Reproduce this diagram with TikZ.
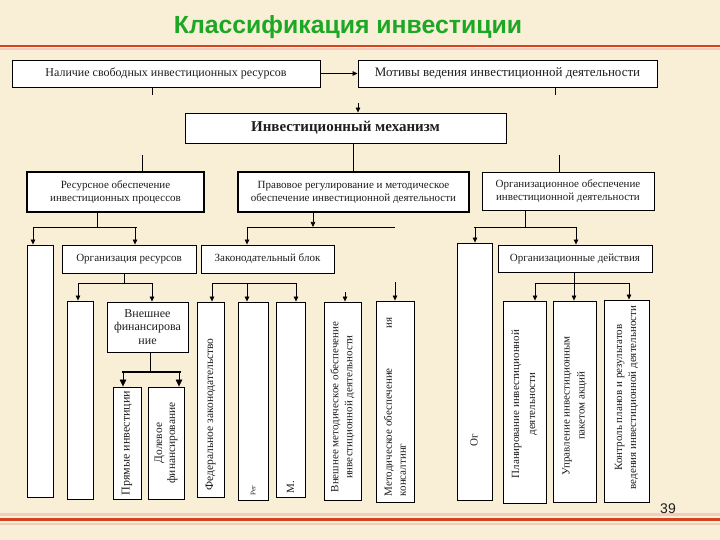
\documentclass[tikz,border=0pt]{standalone}
\usepackage{fontspec}
\setmainfont{Liberation Serif}
\newfontfamily\slidesans{Liberation Sans}
\usetikzlibrary{arrows.meta, positioning}
\definecolor{slidebg}{RGB}{249,239,214}
\definecolor{slidered}{RGB}{210,68,32}
\definecolor{slidepink}{RGB}{242,205,190}
\definecolor{titlegreen}{RGB}{28,168,36}
\definecolor{ink}{RGB}{30,30,30}

\begin{document}
\begin{tikzpicture}[x=1pt, y=-1pt,
    box/.style={draw=black, fill=white, line width=0.9pt, inner sep=1pt, align=center,
                font=\fontsize{11}{13}\selectfont, text=ink},
    vtxt/.style={rotate=90, anchor=west, align=center, inner sep=0pt,
                 font=\fontsize{11}{14}\selectfont, text=ink},
    arr/.style={-{Triangle[length=5pt, width=4.5pt]}, line width=0.7pt},
    bigarr/.style={-{Triangle[length=7pt, width=6.5pt]}, line width=0.7pt},
    link/.style={line width=0.7pt}
  ]
  % slide background
  \fill[slidebg] (0,0) rectangle (720,540);
  \useasboundingbox (0,0) rectangle (720,540);
  \draw[slidepink, line width=2pt] (0,49.5) -- (720,49.5);
  \draw[slidered, line width=2pt] (0,46.5) -- (720,46.5);
  \draw[slidepink, line width=3pt] (0,514) -- (720,514);
  \draw[slidepink, line width=2pt] (0,524) -- (720,524);
  \draw[slidered, line width=3pt] (0,519) -- (720,519);
  \node[font=\slidesans\bfseries\fontsize{24.8}{28}\selectfont, text=titlegreen] (title) at (348,27) {Классификация инвестиции};
  \node[font=\slidesans\fontsize{14}{16}\selectfont, text=ink] (pnum) at (668,509) {39};

  % top rows
  \node[box, minimum width=308, minimum height=27, font=\fontsize{12}{14}\selectfont] (nal) at (166,73.5) {Наличие свободных инвестиционных ресурсов};
  \node[box, minimum width=299, minimum height=27, font=\fontsize{13}{15}\selectfont] (mot) at (507.5,73.5) {Мотивы ведения инвестиционной деятельности};
  \node[box, minimum width=321, minimum height=30, font=\bfseries\fontsize{15}{17}\selectfont] (mech) at (345.5,128) {Инвестиционный механизм};
  \node[box, minimum width=177, minimum height=40, line width=1.3pt] (res) at (115.5,192) {Ресурсное обеспечение\\инвестиционных процессов};
  \node[box, minimum width=231, minimum height=40, line width=1.3pt] (pravo) at (353.5,192) {Правовое регулирование и методическое\\обеспечение инвестиционной деятельности};
  \node[box, minimum width=172, minimum height=38] (org) at (568,191) {Организационное обеспечение\\инвестиционной деятельности};

  % third row
  \node[box, minimum width=26, minimum height=252] (g1) at (40,371) {};
  \node[box, minimum width=134, minimum height=28] (orgres) at (129,259) {Организация ресурсов};
  \node[box, minimum width=133, minimum height=28] (zak) at (267.5,259) {Законодательный блок};
  \node[box, minimum width=35, minimum height=257] (oblank) at (474.5,371.5) {};
  \node[box, minimum width=154, minimum height=27] (orgdej) at (575,258.5) {Организационные действия};

  % lower boxes
  \node[box, minimum width=26, minimum height=198] (h1) at (80,400) {};
  \node[box, minimum width=81, minimum height=50, font=\fontsize{12}{13.5}\selectfont] (vnesh) at (147.5,327) {Внешнее\\финансирова\\ние};
  \node[box, minimum width=28, minimum height=112] (pryam) at (127,443) {};
  \node[box, minimum width=36, minimum height=112] (dolev) at (166,443) {};
  \node[box, minimum width=27, minimum height=195] (fed) at (210.5,399.5) {};
  \node[box, minimum width=30, minimum height=198] (reg) at (253,401) {};
  \node[box, minimum width=29, minimum height=195] (mest) at (290.5,399.5) {};
  \node[box, minimum width=37, minimum height=198] (vnmet) at (342.5,401) {};
  \node[box, minimum width=38, minimum height=201] (met) at (395,401.5) {};
  \node[box, minimum width=43, minimum height=202] (plan) at (524.5,402) {};
  \node[box, minimum width=43, minimum height=201] (upr) at (574.5,401.5) {};
  \node[box, minimum width=45, minimum height=202] (kontr) at (626.5,401) {};

  % vertical labels
  \node[vtxt, anchor=center, font=\fontsize{12}{13}\selectfont] (tpryam) at (pryam.center) {Прямые инвестиции};
  \node[vtxt, anchor=center, font=\fontsize{11.4}{13}\selectfont] (tdolev) at (dolev.center) {Долевое\\финансирование};
  \node[vtxt, font=\fontsize{11.5}{13}\selectfont] (tfed) at ([yshift=7pt]fed.south) {Федеральное законодательство};
  \node[vtxt, font=\fontsize{7}{8}\selectfont] (treg) at ([yshift=5pt]reg.south) {Рег};
  \node[vtxt] (tmest) at ([yshift=4pt]mest.south) {М.};
  \node[vtxt] (tvnmet) at ([yshift=8pt]vnmet.south) {Внешнее методическое обеспечение\\инвестиционной деятельности};
  \node[vtxt, align=left] (tmet) at ([yshift=6pt]met.south) {Методическое обеспечение\hspace{3.6em}ия\\консалтинг};
  \node[vtxt, anchor=center] (tob) at (474,440) {Ог};
  \node[vtxt, font=\fontsize{11}{16}\selectfont] (tplan) at ([yshift=25pt]plan.south) {Планирование инвестиционной\\деятельности};
  \node[vtxt, font=\fontsize{11}{15}\selectfont] (tupr) at ([yshift=27pt]upr.south) {Управление инвестиционным\\пакетом акций};
  \node[vtxt] (tkontr) at ([yshift=13pt]kontr.south) {Контроль планов и результатов\\ведения инвестиционной деятельности};

  % connectors, top
  \draw[arr] (nal) -- (mot);
  \draw[link] (nal.south -| 152,0) -- ++(0,8);
  \draw[link] (mot.south -| 555,0) -- ++(0,8);
  \draw[arr] (358,103) -- (mech.north -| 358,0);
  \draw[link] (mech.south -| pravo.north) -- (pravo.north);
  \draw[link] (142,155) -- (res.north -| 142,0);
  \draw[link] (559,155) -- (org.north -| 559,0);

  % resources
  \draw[link] (res.south -| 97,0) -- (97,227);
  \draw[link] (33,227) -- (137,227);
  \draw[arr] (33,227) -- (g1.north -| 33,0);
  \draw[arr] (135,227) -- (orgres.north -| 135,0);
  \draw[link] (orgres.south -| 124,0) -- (124,283);
  \draw[link] (78,283) -- (152,283);
  \draw[arr] (78,283) -- (h1.north -| 78,0);
  \draw[arr] (152,283) -- (vnesh.north -| 152,0);
  \draw[link] (vnesh.south -| 150,0) -- (150,372);
  \draw[line width=2.2pt] (122,372) -- (181,372);
  \draw[bigarr] (123,372) -- (pryam.north -| 123,0);
  \draw[bigarr] (179,372) -- (dolev.north -| 179,0);

  % legal
  \draw[arr] (pravo.south -| 313,0) -- (313,227);
  \draw[link] (247,227) -- (395,227);
  \draw[arr] (247,227) -- (zak.north -| 247,0);
  \draw[link] (212,283) -- (296,283);
  \foreach \x/\n in {212/fed, 247/reg, 296/mest}
    \draw[arr] (\x,283) -- (\n.north -| \x,0);
  \draw[arr] (345,292) -- (vnmet.north -| 345,0);
  \draw[arr] (395,282) -- (met.north -| 395,0);

  % organisation
  \draw[link] (org.south -| 525,0) -- (525,227);
  \draw[link] (474,227) -- (576,227);
  \draw[arr] (475,227) -- (oblank.north -| 475,0);
  \draw[arr] (576,227) -- (orgdej.north -| 576,0);
  \draw[link] (orgdej.south -| 574,0) -- (574,283);
  \draw[link] (535,283) -- (629,283);
  \foreach \x/\n in {535/plan, 574/upr, 629/kontr}
    \draw[arr] (\x,283) -- (\n.north -| \x,0);
\end{tikzpicture}
\end{document}
